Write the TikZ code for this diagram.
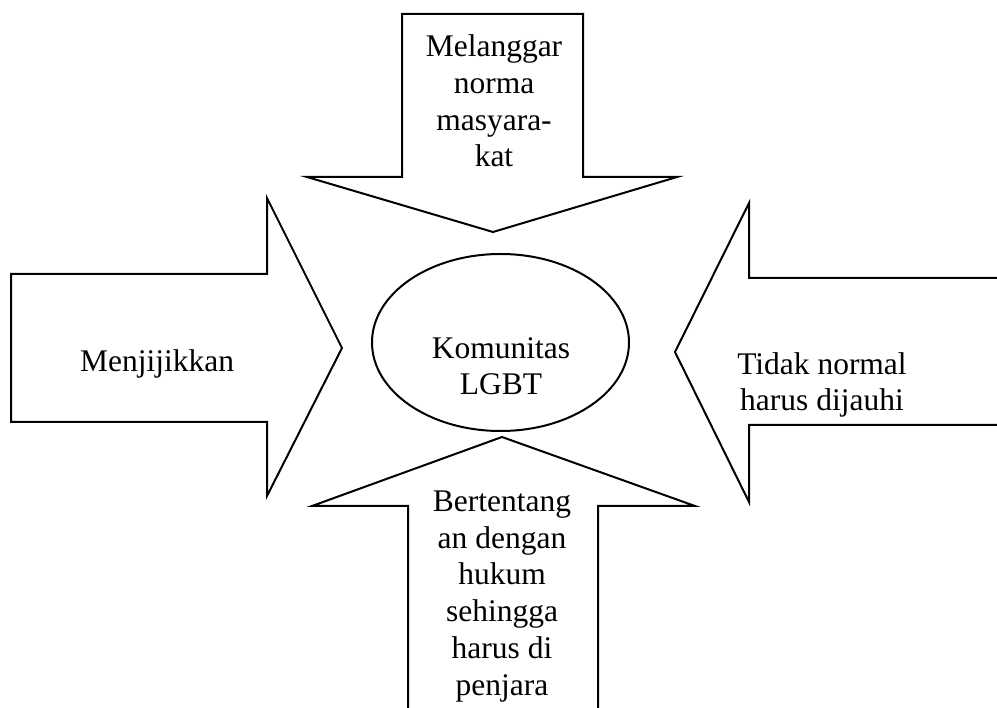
\documentclass[tikz,border=0pt]{standalone}
\usepackage{fontspec}
\setmainfont{Liberation Serif}
\usetikzlibrary{shapes.geometric}

\begin{document}
\begin{tikzpicture}[x=1pt, y=-1pt, line width=2pt, line join=miter,
        words/.style={align=center, anchor=base, inner sep=0pt, font=\fontsize{31.5}{36.7}\selectfont},
        oval/.style={draw, ellipse, inner sep=0pt, minimum width=257pt, minimum height=177pt}]
        \clip (0,0) rectangle (997,708);
        \draw (402,14) -- (583,14) -- (583,177) -- (677,177) -- (493,232) -- (307,177) -- (402,177) -- cycle;
        \draw (11,274) -- (267,274) -- (267,198) -- (342,348) -- (267,496) -- (267,422) -- (11,422) -- cycle;
        \draw (1010,278) -- (749,278) -- (749,203) -- (675,352) -- (749,502) -- (749,425) -- (1010,425);
        \draw (408,720) -- (408,506) -- (312,506) -- (502,437) -- (695,506) -- (598,506) -- (598,720);

        \node[oval] (lgbt) at (500.5,342.5) {};
        \node[words] (komunitas) at (501,395) {Komunitas\\LGBT};
        \node[words] (melanggar) at (494,167) {Melanggar\\norma\\masyara-\\kat};
        \node[words] (menjijikkan) at (157,372) {Menjijikkan};
        \node[words] (tidaknormal) at (822,411) {Tidak normal\\harus dijauhi};
        \node[words] (bertentangan) at (502,695) {Bertentang\\an dengan\\hukum\\sehingga\\harus di\\penjara};
\end{tikzpicture}
\end{document}
